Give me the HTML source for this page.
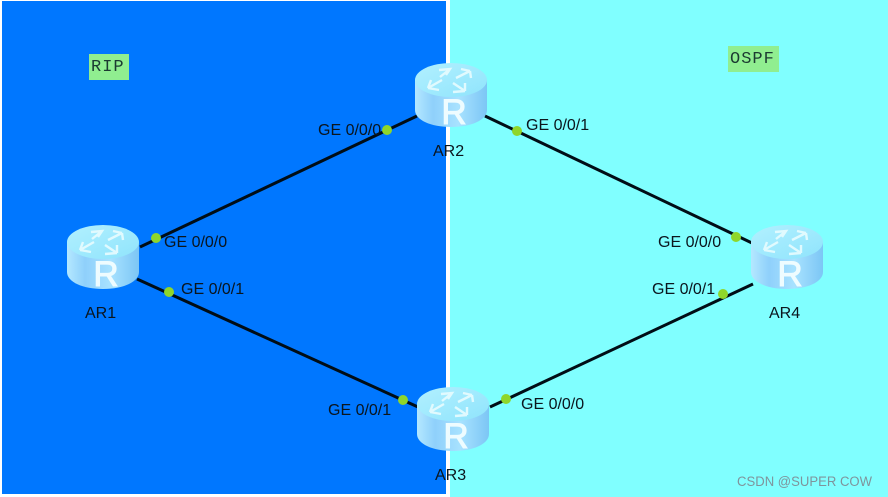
<!DOCTYPE html>
<html><head><meta charset="utf-8"><style>
html,body{margin:0;padding:0;background:#fff}
svg{display:block}
text{font-family:"Liberation Sans",sans-serif}
</style></head><body>
<svg width="888" height="497" viewBox="0 0 888 497" xmlns="http://www.w3.org/2000/svg">
<defs>
<filter id="soft" x="-2%" y="-2%" width="104%" height="104%"><feGaussianBlur stdDeviation="0.35"/></filter>
<linearGradient id="side" x1="0" x2="1" y1="0" y2="0">
<stop offset="0" stop-color="#b4e8ff"/><stop offset=".25" stop-color="#8fd0fb"/><stop offset=".6" stop-color="#a8e2ff"/><stop offset="1" stop-color="#7cc6f5"/>
</linearGradient>
<linearGradient id="top" x1="0" x2="1" y1="0" y2="1">
<stop offset="0" stop-color="#b2f0ff"/><stop offset="1" stop-color="#8fe4fc"/>
</linearGradient>
<g id="router">
<path d="M0 17V47C0 57 16 64 36 64S72 57 72 47V17Z" fill="url(#side)"/>
<ellipse cx="36" cy="17" rx="36" ry="17" fill="url(#top)"/>
<g fill="none" stroke="#e8fcff" stroke-width="2.4" opacity=".9">
<path d="M24 7L35 6L31 12M35 6L25 14"/>
<path d="M41 15L55 8M55 8L46 6M55 8L56 15"/>
<path d="M13 25L27 17M13 25L24 27M13 25L16 17"/>
<path d="M38 20L50 28M50 28L50 20M50 28L38 29"/>
</g>
<text x="39" y="61" font-size="35" stroke="#eefcff" stroke-width="1" fill="#eefcff" text-anchor="middle">R</text>
</g>
</defs>
<rect width="888" height="497" fill="#fff"/>
<rect x="2" y="1" width="444" height="493" fill="#0077ff"/>
<rect x="450" y="0" width="438" height="497" fill="#80ffff"/>

<g filter="url(#soft)">
<g stroke="#050d14" stroke-width="3" fill="none">
<line x1="140" y1="247" x2="417" y2="116"/>
<line x1="485" y1="116" x2="752" y2="243"/>
<line x1="137" y1="279" x2="418" y2="407"/>
<line x1="490" y1="407" x2="753" y2="284"/>
</g>

<use href="#router" x="415" y="63"/>
<use href="#router" x="67" y="225"/>
<use href="#router" x="417" y="387"/>
<use href="#router" x="751" y="225"/>

<g fill="#8fd62a">
<circle cx="387" cy="130" r="5"/>
<circle cx="517" cy="131" r="5"/>
<circle cx="156" cy="238" r="5"/>
<circle cx="736" cy="237" r="5"/>
<circle cx="169" cy="292" r="5"/>
<circle cx="723" cy="294" r="5"/>
<circle cx="403" cy="400" r="5"/>
<circle cx="506" cy="399" r="5"/>
</g>

<g font-size="16" fill="#08131f">
<text x="318" y="135">GE 0/0/0</text>
<text x="526" y="130">GE 0/0/1</text>
<text x="164" y="247">GE 0/0/0</text>
<text x="658" y="247">GE 0/0/0</text>
<text x="181" y="294">GE 0/0/1</text>
<text x="652" y="294">GE 0/0/1</text>
<text x="328" y="415">GE 0/0/1</text>
<text x="521" y="409">GE 0/0/0</text>
<text x="433" y="156">AR2</text>
<text x="85" y="318">AR1</text>
<text x="435" y="480">AR3</text>
<text x="769" y="318">AR4</text>
</g>

<rect x="89" y="54" width="40" height="26" fill="#90ee90"/>
<text x="91" y="71" font-size="17" letter-spacing="1" fill="#1a3a30" style='font-family:"Liberation Mono",monospace'>RIP</text>
<rect x="728" y="46" width="51" height="26" fill="#90ee90"/>
<text x="730" y="63" font-size="17" letter-spacing="1" fill="#1a3a30" style='font-family:"Liberation Mono",monospace'>OSPF</text>

<text x="737" y="486" font-size="13.5" fill="#7f949c" textLength="135" lengthAdjust="spacingAndGlyphs">CSDN @SUPER COW</text>
</g>
</svg>
</body></html>
